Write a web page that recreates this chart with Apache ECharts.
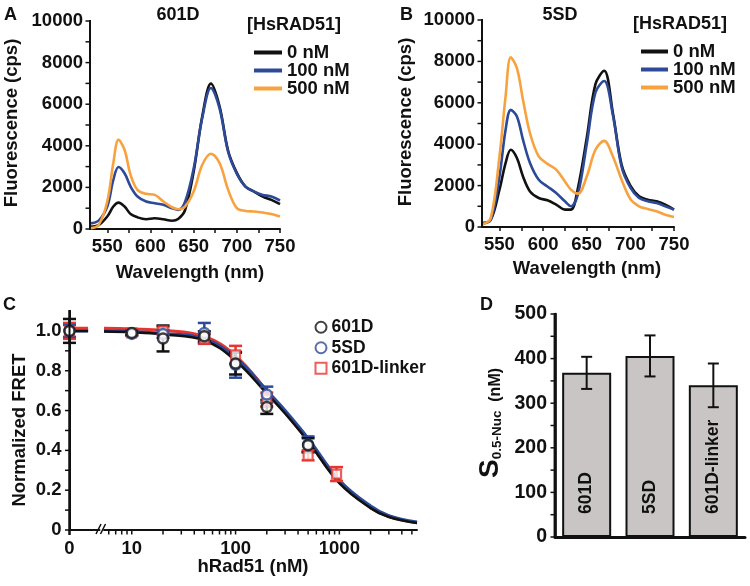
<!DOCTYPE html>
<html><head><meta charset="utf-8">
<script src="https://cdn.jsdelivr.net/npm/echarts@6/dist/echarts.min.js"></script>
<style>html,body{margin:0;padding:0;background:#fff}#c{width:750px;height:586px}</style>
</head><body><div id="c"></div>
<script>
// ---------- Panel A / B: emission spectra ----------
const wavelength = [530,540,550,557,563,570,577,585,595,605,615,625,632,640,650,660,670,680,690,700,710,720,730,740,750];
const a_0nM   = [110,190,600,1080,1270,1080,720,560,470,515,470,400,480,900,2750,5420,6990,5900,3750,2700,2040,1800,1560,1400,1200];
const a_100nM = [270,400,1080,2360,2980,2680,2040,1560,1320,1240,1160,1000,920,1300,2900,5350,6780,5800,3700,2650,2040,1800,1640,1560,1370];
const a_500nM = [30,190,1320,3170,4290,3810,2600,1880,1690,1640,1320,1045,950,1080,1800,3090,3620,3170,1880,1000,870,840,790,720,600];
const b_0nM   = [190,350,1800,3090,3730,3330,2440,1720,1400,1290,1080,840,840,1900,4300,6900,7550,5500,3000,2000,1480,1320,1240,1080,840];
const b_100nM = [160,350,2440,4690,5660,5340,4210,3090,2280,1960,1640,1240,1000,1600,4000,6500,7050,5400,2900,1900,1400,1240,1160,1000,840];
const b_500nM = [110,430,3410,6300,8200,7670,6140,4530,3410,3050,2770,2200,1800,1610,2440,3730,4160,3410,2280,1350,1000,870,760,590,480];
const wlTicks = [550,575,600,625,650,675,700,725,750];
const wlLabels = [550,600,650,700,750];
const fluorTicks = [0,1000,2000,3000,4000,5000,6000,7000,8000,9000,10000];

// ---------- Panel C: normalized FRET titration ----------
const conc601D = [0,10,20,50,100,200,500];
const fret601D = [1.0,0.99,0.962,0.973,0.836,0.618,0.426];
const err601D  = [0.06,0.01,0.065,0.025,0.055,0.035,0.035];
const conc5SD  = [0,10,20,50,100,200,500];
const fret5SD  = [1.0,0.985,0.985,0.99,0.83,0.68,0.43];
const err5SD   = [0.03,0.01,0.02,0.05,0.065,0.04,0.04];
const concLinker = [0,10,20,50,100,200,500,940];
const fretLinker = [1.0,0.99,1.0,0.96,0.88,0.655,0.375,0.281];
const errLinker  = [0.04,0.01,0.02,0.025,0.045,0.035,0.025,0.035];
// fitted curves
const curveConc   = [5.4,10,20,50,100,200,300,500,1000,2000,3000,5600];
const curve601D   = [0.997,0.993,0.982,0.952,0.85,0.685,0.585,0.445,0.235,0.11,0.065,0.035];
const curve5SD    = [1.0,0.996,0.987,0.96,0.865,0.70,0.60,0.46,0.25,0.12,0.072,0.04];
const curveLinker = [1.013,1.01,1.003,0.972,0.875,0.70,0.59,0.447,0.24,0.112,0.067,0.036];
const baseSpan = [0, 0.62];            // zero-concentration segment (left of axis break)
const baseLevel = {b601D:1.0, b5SD:1.0, bLinker:1.013};
const logTicks = [6,7,8,9,10,20,30,40,50,60,70,80,90,100,200,300,400,500,600,700,800,900,1000,2000,3000,4000,5000];
const fretTicks = [0,0.1,0.2,0.3,0.4,0.5,0.6,0.7,0.8,0.9,1.0];

// ---------- Panel D ----------
const constructs = ['601D','5SD','601D-linker'];
const s05 = [368,406,340];
const s05err = [36,46,49];
const s05Ticks = [0,50,100,150,200,250,300,350,400,450,500];

const FONT = '"Liberation Sans", Arial, Helvetica, sans-serif';
const BLACK = '#111111', BLUE = '#2d4a98', ORANGE = '#f8a23f', RED = '#e8352f';
const tickLbl = () => ({color:'#111', fontSize:18.5, fontWeight:'bold', fontFamily:FONT});
const axLine = (w) => ({show:true, onZero:false, lineStyle:{color:'#111', width:w || 2}});
const axTick = () => ({show:true, length:4, lineStyle:{color:'#111', width:1.5}});

function errBar(color, cap, lw) {
  return function (params, api) {
    const x = api.value(0), lo = api.value(1), hi = api.value(2);
    const p1 = api.coord([x, lo]), p2 = api.coord([x, hi]);
    const h = cap / 2, st = {stroke: color, lineWidth: lw};
    return {type:'group', children:[
      {type:'line', shape:{x1:p1[0],y1:p1[1],x2:p2[0],y2:p2[1]}, style:st},
      {type:'line', shape:{x1:p1[0]-h,y1:p1[1],x2:p1[0]+h,y2:p1[1]}, style:st},
      {type:'line', shape:{x1:p2[0]-h,y1:p2[1],x2:p2[0]+h,y2:p2[1]}, style:st}
    ]};
  };
}
// y-axis ticks drawn through the axis scales
function yTickSeries(idx, xAt, ticks, bandShift) {
  return {type:'custom', name:'yticks' + idx, xAxisIndex:idx, yAxisIndex:idx, z:7, silent:true, clip:false,
    data:ticks.map(v => [xAt, v]), encode:{x:0, y:1},
    renderItem:(params, api) => {
      const shift = bandShift ? api.size([1, 0])[0] / 2 : 0;
      const p = api.coord([xAt, api.value(1)]);
      const x = p[0] - shift;
      return {type:'rect', shape:{x:x - 4.5, y:p[1] - 0.75, width:4.5, height:1.5}, style:{fill:'#111'}};
    }};
}
// y-axis line drawn as a thin filled bar spanning the axis range
function yLineSeries(idx, xAt, lo, hi, lw, below, bandShift) {
  return {type:'custom', name:'yline' + idx, xAxisIndex:idx, yAxisIndex:idx, z:7, silent:true, clip:false,
    data:[[xAt, lo, hi]], encode:{x:0, y:[1,2]},
    renderItem:(params, api) => {
      const shift = bandShift ? api.size([1, 0])[0] / 2 : 0;
      const p0 = api.coord([xAt, api.value(1)]), p1 = api.coord([xAt, api.value(2)]);
      const x = p0[0] - shift;
      return {type:'rect', shape:{x:x - lw / 2, y:p1[1] - 1, width:lw, height:(p0[1] - p1[1]) + below + 1}, style:{fill:'#111'}};
    }};
}
const pairs = (xs, ys) => xs.map((x, i) => [x, ys[i]]);
const errData = (xs, ys, es, keepZero) => xs.map((x, i) => [x, ys[i]-es[i], ys[i]+es[i]]).filter(d => keepZero ? d[0] === 0 : d[0] !== 0);
const ptData = (xs, ys, keepZero) => pairs(xs, ys).filter(d => keepZero ? d[0] === 0 : d[0] !== 0);

function specLine(name, data, color, xi) {
  return {type:'line', name, xAxisIndex:xi, yAxisIndex:xi, data:pairs(wavelength, data), showSymbol:false, symbol:'none',
    smooth:0.35, lineStyle:{color, width:2.6}, itemStyle:{color}, silent:true};
}
function specAxes(grid) {
  return {
    x: {type:'value', gridIndex:grid, min:530, max:750, axisLine:axLine(),
        axisTick:Object.assign({customValues:wlTicks}, axTick()),
        axisLabel:Object.assign({customValues:wlLabels, margin:8}, tickLbl()), splitLine:{show:false}},
    y: {type:'value', gridIndex:grid, min:0, max:10000, interval:1000, axisLine:axLine(), axisTick:{show:false},
        axisLabel:Object.assign({margin:7, formatter:v => (v % 2000 === 0 ? String(v) : '')}, tickLbl()), splitLine:{show:false}}
  };
}
const axA = specAxes(0), axB = specAxes(1);

const yC = () => ({min:0, max:1.1, interval:0.1, splitLine:{show:false}});
const axisBar = (x, y, w, h) => ({type:'rect', z:100, shape:{x, y, width:w, height:h}, style:{fill:'#111'}});
const option = {
  animation:false,
  backgroundColor:'#fff',
  grid:[
    {left:90, top:21, width:190, height:208},
    {left:482, top:20, width:192, height:207},
    {left:69.5, top:311, width:30, height:219},
    {left:104, top:311, width:313, height:219},
    {left:555, top:314, width:190, height:223}
  ],
  xAxis:[
    axA.x, axB.x,
    {type:'value', gridIndex:2, min:0, max:1, axisLine:axLine(), axisTick:{show:false},
     axisLabel:Object.assign({customValues:[0], margin:9}, tickLbl()), splitLine:{show:false}},
    {type:'log', gridIndex:3, min:5.4, max:5600, logBase:10, axisLine:axLine(), axisTick:{show:false},
     axisLabel:Object.assign({margin:9, showMinLabel:false, showMaxLabel:false, formatter:v => String(Math.round(v))}, tickLbl()),
     splitLine:{show:false}, minorSplitLine:{show:false}},
    {type:'category', gridIndex:4, data:constructs, axisLine:axLine(3),
     axisTick:{show:false}, axisLabel:{show:false}}
  ],
  yAxis:[
    axA.y, axB.y,
    Object.assign({type:'value', gridIndex:2, axisLine:axLine(), axisTick:{show:false},
      axisLabel:Object.assign({margin:8, formatter:v => {const k = Math.round(v*10); return k % 2 ? '' : (k === 0 ? '0' : (k/10).toFixed(1));}}, tickLbl())}, yC()),
    Object.assign({type:'value', gridIndex:3, show:false}, yC()),
    {type:'value', gridIndex:4, min:0, max:500, interval:50, axisLine:axLine(2.5), axisTick:{show:false},
     axisLabel:Object.assign({margin:8, formatter:v => (v % 100 === 0 ? String(v) : '')}, tickLbl(), {fontSize:19.5}), splitLine:{show:false}}
  ],
  legend:[
    {left:249, top:38, orient:'vertical', itemWidth:28, itemHeight:4, itemGap:-1, icon:'rect', selectedMode:false,
     data:['0 nM','100 nM','500 nM'], textStyle:{color:'#111', fontSize:18.5, fontWeight:'bold', fontFamily:FONT}},
    {left:636, top:37, orient:'vertical', itemWidth:27, itemHeight:4, itemGap:-1, icon:'rect', selectedMode:false,
     data:['0 nM','100 nM','500 nM'], textStyle:{color:'#111', fontSize:18.5, fontWeight:'bold', fontFamily:FONT}},
    {left:309.5, top:312, orient:'vertical', itemWidth:11, itemHeight:11, itemGap:0, selectedMode:false,
     data:[{name:'601D', icon:'circle'},{name:'5SD', icon:'circle'},{name:'601D-linker', icon:'rect'}],
     textStyle:{color:'#111', fontSize:17.5, fontWeight:'bold', fontFamily:FONT, lineHeight:20.5}}
  ],
  series:[
    specLine('0 nM', a_0nM, BLACK, 0), specLine('100 nM', a_100nM, BLUE, 0), specLine('500 nM', a_500nM, ORANGE, 0),
    specLine('0 nM', b_0nM, BLACK, 1), specLine('100 nM', b_100nM, BLUE, 1), specLine('500 nM', b_500nM, ORANGE, 1),

    // y axes (line + ticks)
    yLineSeries(0, 530, 0, 10000, 2, 0, false), yTickSeries(0, 530, fluorTicks, false),
    yLineSeries(1, 530, 0, 10000, 2, 0, false), yTickSeries(1, 530, fluorTicks, false),
    yLineSeries(2, 0, 0, 1.1, 2, 5, false), yTickSeries(2, 0, fretTicks, false),
    yLineSeries(4, 0, 0, 500, 2.5, 0, true), yTickSeries(4, 0, s05Ticks, true),

    // C: curves (zero segment + log part)
    {type:'line', name:'fit linker 0', xAxisIndex:2, yAxisIndex:2, data:baseSpan.map(x => [x, baseLevel.bLinker]), showSymbol:false, symbol:'none', lineStyle:{color:RED, width:3}, z:2, silent:true},
    {type:'line', name:'fit 5SD 0', xAxisIndex:2, yAxisIndex:2, data:baseSpan.map(x => [x, baseLevel.b5SD]), showSymbol:false, symbol:'none', lineStyle:{color:BLUE, width:3}, z:2, silent:true},
    {type:'line', name:'fit 601D 0', xAxisIndex:2, yAxisIndex:2, data:baseSpan.map(x => [x, baseLevel.b601D]), showSymbol:false, symbol:'none', lineStyle:{color:BLACK, width:2.5}, z:2, silent:true},
    {type:'line', name:'fit linker', xAxisIndex:3, yAxisIndex:3, data:pairs(curveConc, curveLinker), smooth:0.4, showSymbol:false, symbol:'none', lineStyle:{color:RED, width:3}, z:2, silent:true},
    {type:'line', name:'fit 5SD', xAxisIndex:3, yAxisIndex:3, data:pairs(curveConc, curve5SD), smooth:0.4, showSymbol:false, symbol:'none', lineStyle:{color:BLUE, width:3.2}, z:2, silent:true},
    {type:'line', name:'fit 601D', xAxisIndex:3, yAxisIndex:3, data:pairs(curveConc, curve601D), smooth:0.4, showSymbol:false, symbol:'none', lineStyle:{color:BLACK, width:2.5}, z:2, silent:true},

    // C: error bars
    {type:'custom', name:'e linker 0', xAxisIndex:2, yAxisIndex:2, data:errData(concLinker, fretLinker, errLinker, true), renderItem:errBar(RED, 13, 2.5), encode:{x:0, y:[1,2]}, z:8, silent:true},
    {type:'custom', name:'e 5SD 0', xAxisIndex:2, yAxisIndex:2, data:errData(conc5SD, fret5SD, err5SD, true), renderItem:errBar(BLUE, 13, 2.5), encode:{x:0, y:[1,2]}, z:8, silent:true},
    {type:'custom', name:'e 601D 0', xAxisIndex:2, yAxisIndex:2, data:errData(conc601D, fret601D, err601D, true), renderItem:errBar(BLACK, 13, 2.5), encode:{x:0, y:[1,2]}, z:8, silent:true},
    {type:'custom', name:'e linker', xAxisIndex:3, yAxisIndex:3, data:errData(concLinker, fretLinker, errLinker, false), renderItem:errBar(RED, 13, 2.5), encode:{x:0, y:[1,2]}, z:3, silent:true},
    {type:'custom', name:'e 5SD', xAxisIndex:3, yAxisIndex:3, data:errData(conc5SD, fret5SD, err5SD, false), renderItem:errBar(BLUE, 13, 2.5), encode:{x:0, y:[1,2]}, z:3, silent:true},
    {type:'custom', name:'e 601D', xAxisIndex:3, yAxisIndex:3, data:errData(conc601D, fret601D, err601D, false), renderItem:errBar(BLACK, 13, 2.5), encode:{x:0, y:[1,2]}, z:3, silent:true},

    // C: points
    {type:'scatter', name:'601D-linker', xAxisIndex:3, yAxisIndex:3, data:ptData(concLinker, fretLinker, false), symbol:'rect', symbolSize:9, itemStyle:{color:'#fff', borderColor:RED, borderWidth:2.2}, z:4, silent:true},
    {type:'scatter', name:'5SD', xAxisIndex:3, yAxisIndex:3, data:ptData(conc5SD, fret5SD, false), symbol:'circle', symbolSize:10, itemStyle:{color:'#fff', borderColor:BLUE, borderWidth:2.5}, z:4, silent:true},
    {type:'scatter', name:'601D', xAxisIndex:3, yAxisIndex:3, data:ptData(conc601D, fret601D, false), symbol:'circle', symbolSize:10, itemStyle:{color:'#fff', borderColor:BLACK, borderWidth:2.5}, z:5, silent:true},
    {type:'scatter', name:'601D-linker', xAxisIndex:2, yAxisIndex:2, data:ptData(concLinker, fretLinker, true), symbol:'rect', symbolSize:9, itemStyle:{color:'#fff', borderColor:RED, borderWidth:2.2}, z:8, silent:true},
    {type:'scatter', name:'5SD', xAxisIndex:2, yAxisIndex:2, data:ptData(conc5SD, fret5SD, true), symbol:'circle', symbolSize:10, itemStyle:{color:'#fff', borderColor:BLUE, borderWidth:2.5}, z:8, silent:true},
    {type:'scatter', name:'601D', xAxisIndex:2, yAxisIndex:2, data:ptData(conc601D, fret601D, true), symbol:'circle', symbolSize:10, itemStyle:{color:'#fff', borderColor:BLACK, borderWidth:2.5}, z:9, silent:true},
    // C: log-axis ticks
    {type:'custom', name:'ticks', xAxisIndex:3, yAxisIndex:3, data:logTicks.map(v => [v, 0]), encode:{x:0, y:1}, z:6, silent:true, clip:false,
     renderItem:(p, api) => { const c = api.coord([api.value(0), 0]); return {type:'rect', shape:{x:c[0] - 0.75, y:c[1], width:1.5, height:4.5}, style:{fill:'#111'}}; }},

    // D: bars and error bars
    {type:'bar', name:'S05', xAxisIndex:4, yAxisIndex:4, data:s05, barWidth:49,
     itemStyle:{color:'#c9c5c5', borderColor:'#111', borderWidth:2},
     label:{show:true, position:'insideBottom', rotate:90, align:'left', verticalAlign:'middle', distance:23, formatter:'{b}',
            color:'#111', fontSize:17.5, fontWeight:'bold', fontFamily:FONT}, silent:true},
    {type:'custom', name:'S05 err', xAxisIndex:4, yAxisIndex:4, data:s05.map((v, i) => [i, v - s05err[i], v + s05err[i]]),
     renderItem:errBar('#111', 11, 2), encode:{x:0, y:[1,2]}, z:5, silent:true}
  ],
  graphic:[
    {type:'text', x:4, y:15, style:{text:'A', font:'bold 18px ' + FONT, fill:'#111', verticalAlign:'middle'}},
    {type:'text', x:178, y:15, style:{text:'601D', font:'bold 18px ' + FONT, fill:'#111', align:'center', verticalAlign:'middle'}},
    {type:'text', x:247, y:25, style:{text:'[HsRAD51]', font:'bold 18px ' + FONT, fill:'#111', verticalAlign:'middle'}},
    {type:'text', x:400, y:15, style:{text:'B', font:'bold 18px ' + FONT, fill:'#111', verticalAlign:'middle'}},
    {type:'text', x:560, y:15, style:{text:'5SD', font:'bold 18px ' + FONT, fill:'#111', align:'center', verticalAlign:'middle'}},
    {type:'text', x:633, y:24, style:{text:'[HsRAD51]', font:'bold 18px ' + FONT, fill:'#111', verticalAlign:'middle'}},
    {type:'text', x:3, y:305, style:{text:'C', font:'bold 18px ' + FONT, fill:'#111', verticalAlign:'middle'}},
    {type:'text', x:480, y:305, style:{text:'D', font:'bold 18px ' + FONT, fill:'#111', verticalAlign:'middle'}},
    {type:'text', x:12, y:123, rotation:Math.PI/2, style:{text:'Fluorescence (cps)', font:'bold 18.5px ' + FONT, fill:'#111', align:'center', verticalAlign:'middle'}},
    {type:'text', x:190, y:273, style:{text:'Wavelength (nm)', font:'bold 18.5px ' + FONT, fill:'#111', align:'center', verticalAlign:'middle'}},
    {type:'text', x:406, y:122, rotation:Math.PI/2, style:{text:'Fluorescence (cps)', font:'bold 18.5px ' + FONT, fill:'#111', align:'center', verticalAlign:'middle'}},
    {type:'text', x:587, y:269, style:{text:'Wavelength (nm)', font:'bold 18.5px ' + FONT, fill:'#111', align:'center', verticalAlign:'middle'}},
    {type:'text', x:20, y:430, rotation:Math.PI/2, style:{text:'Normalized FRET', font:'bold 18.5px ' + FONT, fill:'#111', align:'center', verticalAlign:'middle'}},
    {type:'text', x:253, y:567, style:{text:'hRad51 (nM)', font:'bold 18.5px ' + FONT, fill:'#111', align:'center', verticalAlign:'middle'}},
    {type:'text', x:490, y:423, rotation:Math.PI/2, style:{text:'{s|S}{sub|0.5-Nuc}{u|  (nM)}', fill:'#111', align:'center', verticalAlign:'middle',
      rich:{s:{fontSize:28, fontWeight:'bold', fontFamily:FONT, fill:'#111'},
            sub:{fontSize:13.5, fontWeight:'bold', fontFamily:FONT, fill:'#111', verticalAlign:'bottom'},
            u:{fontSize:16, fontWeight:'bold', fontFamily:FONT, fill:'#111', verticalAlign:'bottom'}}}},
    // y-axis spines (decoration, matching the grid edges)
    axisBar(89, 20, 2, 210),
    axisBar(481, 19, 2, 209),
    axisBar(68.5, 310, 2, 225),
    axisBar(553.75, 313, 2.5, 225),
    // axis break marks
    {type:'line', shape:{x1:96, y1:534, x2:101, y2:524}, style:{stroke:'#111', lineWidth:1.6}},
    {type:'line', shape:{x1:100.5, y1:534, x2:105.5, y2:524}, style:{stroke:'#111', lineWidth:1.6}}
  ]
};
const chart = echarts.init(document.getElementById('c'), null, {renderer:'canvas'});
chart.setOption(option);
</script></body></html>
